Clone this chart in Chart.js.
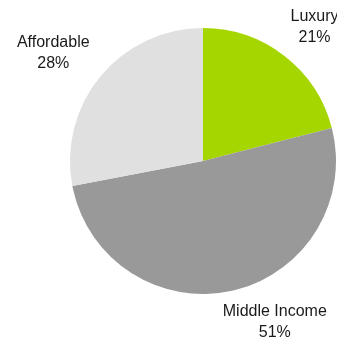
<!DOCTYPE html>
<html>
<head>
<meta charset="utf-8">
<script src="https://cdn.jsdelivr.net/npm/chart.js@4"></script>
<style>
  html, body { margin: 0; padding: 0; background: #fff; }
  #wrap { width: 337px; height: 339px; position: relative; }
</style>
</head>
<body>
<div id="wrap"><canvas id="chart"></canvas></div>
<script>
// Housing mix by segment (share of units, %)
const segments = ['Luxury', 'Middle Income', 'Affordable'];
const shares = [21, 51, 28];
const sliceColors = ['#a6d600', '#999999', '#e0e0e0'];

// Outside labels: name on one line, percentage below it
const outsideLabels = {
  id: 'outsideLabels',
  afterDatasetsDraw(chart, args, opts) {
    const { ctx } = chart;
    const meta = chart.getDatasetMeta(0);
    const total = shares.reduce((a, b) => a + b, 0);
    ctx.save();
    ctx.font = opts.font;
    ctx.fillStyle = opts.color;
    ctx.textAlign = 'center';
    ctx.textBaseline = 'middle';
    meta.data.forEach((arc, i) => {
      const mid = (arc.startAngle + arc.endAngle) / 2;
      const dx = Math.cos(mid);
      const dy = Math.sin(mid);
      const lines = [segments[i], Math.round(shares[i] / total * 100) + '%'];
      const w = Math.max(...lines.map(t => ctx.measureText(t).width));
      const h = lines.length * opts.lineHeight;
      const shift = opts.shift[i] || [0, 0];
      const cx = arc.x + dx * (arc.outerRadius + opts.gapX + w / 2) + shift[0];
      const cy = arc.y + dy * (arc.outerRadius + opts.gapY + h / 2) + shift[1];
      lines.forEach((t, k) => {
        ctx.fillText(t, cx, cy + (k - (lines.length - 1) / 2) * opts.lineHeight);
      });
    });
    ctx.restore();
  }
};

new Chart(document.getElementById('chart'), {
  type: 'pie',
  data: {
    labels: segments,
    datasets: [{
      data: shares,
      backgroundColor: sliceColors,
      borderWidth: 0,
    }],
  },
  options: {
    responsive: true,
    maintainAspectRatio: false,
    animation: false,
    layout: { padding: { left: 70, right: 1, top: 28, bottom: 45 } },
    plugins: {
      legend: { display: false },
      tooltip: { enabled: false },
      outsideLabels: {
        font: '16px "Liberation Sans", Arial, sans-serif',
        color: '#1a1a1a',
        lineHeight: 21,
        gapX: 25,
        gapY: 15,
        shift: [[0, 0], [26, -4], [0, 0]],
      },
    },
  },
  plugins: [outsideLabels],
});
</script>
</body>
</html>
